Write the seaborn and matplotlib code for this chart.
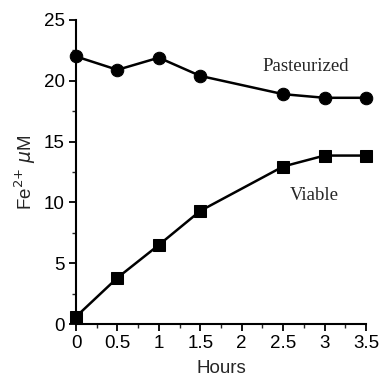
import numpy as np
import pandas as pd
import matplotlib
matplotlib.use("Agg")
import matplotlib.pyplot as plt
import seaborn as sns
from matplotlib.ticker import MultipleLocator, FormatStrFormatter

hours = [0, 0.5, 1, 1.5, 2.5, 3, 3.5]
pasteurized = [22.0, 20.9, 21.9, 20.4, 18.9, 18.6, 18.6]
viable = [0.6, 3.8, 6.5, 9.3, 12.95, 13.85, 13.85]

df = pd.DataFrame({'hours': hours + hours,
                   'fe': pasteurized + viable,
                   'sample': ['Pasteurized'] * len(hours) + ['Viable'] * len(hours)})

sns.set_style("ticks")
plt.rcParams['font.family'] = ['Liberation Sans', 'DejaVu Sans']

fig = plt.figure(figsize=(3.8, 3.81), dpi=100)
ax = fig.add_axes([0.2, 0.1496, 0.763, 0.798])

sns.lineplot(data=df, x='hours', y='fe', hue='sample', style='sample',
             markers={'Pasteurized': 'o', 'Viable': 's'}, dashes=False,
             palette={'Pasteurized': 'black', 'Viable': 'black'},
             markersize=9, linewidth=1.8, markeredgecolor='black',
             legend=False, ax=ax, clip_on=False)

ax.set_xlim(0, 3.5)
ax.set_ylim(0, 25)
ax.xaxis.set_major_locator(MultipleLocator(0.5))
ax.xaxis.set_minor_locator(MultipleLocator(0.25))
ax.yaxis.set_major_locator(MultipleLocator(5))
ax.yaxis.set_minor_locator(MultipleLocator(2.5))
ax.xaxis.set_major_formatter(FormatStrFormatter('%g'))
ax.tick_params(which='major', length=5, width=1.3, labelsize=13.5, colors='black', pad=3)
ax.tick_params(which='minor', length=3, width=1.0)
sns.despine(ax=ax)
for s in ['left', 'bottom']:
    ax.spines[s].set_linewidth(1.5)
    ax.spines[s].set_color('black')

ax.set_xlabel('Hours', fontsize=13.5, labelpad=6)
ax.set_ylabel(r'Fe$^{2{+}}$ $\mu$M', fontsize=13.5, labelpad=4)

ax.text(2.245, 21.2, 'Pasteurized', family='Liberation Serif', fontsize=13.5, va='center', ha='left')
ax.text(2.58, 10.6, 'Viable', family='Liberation Serif', fontsize=13.5, va='center', ha='left')

fig.savefig('out.png', dpi=100)
